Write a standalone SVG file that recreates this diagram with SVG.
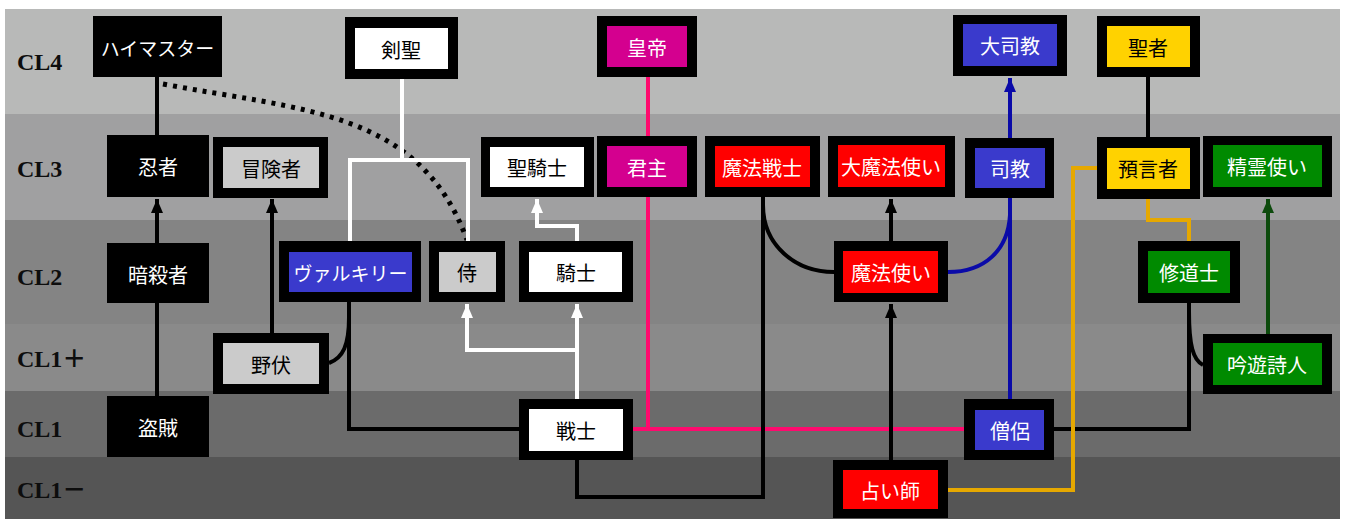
<svg xmlns="http://www.w3.org/2000/svg" width="1347" height="519" viewBox="0 0 1347 519">
<style>
.lvl{font-family:"Liberation Serif","Noto Sans CJK JP",serif;font-weight:bold;font-size:24px;fill:#0d0d0d}
.o{fill:#000}
.t{font-family:"Noto Sans CJK JP","Noto Sans",sans-serif;font-size:20px;text-anchor:middle;dominant-baseline:central}
.w{fill:#fff}
.b{fill:#000}
.k{fill:none;stroke:#000;stroke-width:4}
.dot{fill:none;stroke:#000;stroke-width:5;stroke-dasharray:4 6}
.wl{fill:none;stroke:#fff;stroke-width:4}
.pk{fill:none;stroke:#ff0a6e;stroke-width:4}
.bl{fill:none;stroke:#0a0aa8;stroke-width:4}
.gd{fill:none;stroke:#e6a800;stroke-width:4}
.gn{fill:none;stroke:#0c4a0c;stroke-width:4}
</style>
<defs>
<marker id="ak" markerUnits="userSpaceOnUse" viewBox="0 0 14 12" refX="14" refY="6" markerWidth="14" markerHeight="12" orient="auto"><path d="M0,0 L14,6 L0,12 Z" fill="#000"/></marker>
<marker id="aw" markerUnits="userSpaceOnUse" viewBox="0 0 14 12" refX="14" refY="6" markerWidth="14" markerHeight="12" orient="auto"><path d="M0,0 L14,6 L0,12 Z" fill="#fff"/></marker>
<marker id="ab" markerUnits="userSpaceOnUse" viewBox="0 0 14 12" refX="14" refY="6" markerWidth="14" markerHeight="12" orient="auto"><path d="M0,0 L14,6 L0,12 Z" fill="#0a0aa8"/></marker>
<marker id="ag" markerUnits="userSpaceOnUse" viewBox="0 0 14 12" refX="14" refY="6" markerWidth="14" markerHeight="12" orient="auto"><path d="M0,0 L14,6 L0,12 Z" fill="#0c4a0c"/></marker>
</defs>
<rect x="0" y="0" width="1347" height="519" fill="#fff"/>
<g id="bands">
<rect x="5" y="9" width="1335" height="105" fill="#b8b9b8"/>
<rect x="5" y="114" width="1335" height="106" fill="#a0a0a1"/>
<rect x="5" y="220" width="1335" height="104" fill="#848484"/>
<rect x="5" y="324" width="1335" height="67" fill="#8a8a8a"/>
<rect x="5" y="391" width="1335" height="66" fill="#6b6b6b"/>
<rect x="5" y="457" width="1335" height="62" fill="#555555"/>
</g>
<g id="levels">
<text class="lvl" x="17" y="70">CL4</text>
<text class="lvl" x="17" y="177">CL3</text>
<text class="lvl" x="17" y="285">CL2</text>
<text class="lvl" x="17" y="367">CL1＋</text>
<text class="lvl" x="17" y="437">CL1</text>
<text class="lvl" x="17" y="498">CL1－</text>
</g>
<g id="connectors">
<path class="pk" d="M648,77 V136 M648,197 V429 M633,429 H964"/>
<path class="k" d="M157,77 V135"/>
<path class="k" d="M157,303 V396"/>
<path class="k" d="M157,243 V199" marker-end="url(#ak)"/>
<path class="k" d="M272,333 V199" marker-end="url(#ak)"/>
<path class="k" d="M349,302 V429 H519"/>
<path class="k" d="M329,363 C343,358 349,345 349,318"/>
<path class="k" d="M577,460 V497 H763 V197"/>
<path class="k" d="M763,205 C763,245 795,272 834,272"/>
<path class="k" d="M891,241 V199" marker-end="url(#ak)"/>
<path class="k" d="M891,460 V304" marker-end="url(#ak)"/>
<path class="k" d="M1054,429 H1189 V303"/>
<path class="k" d="M1203,365 C1193,360 1189,345 1189,312"/>
<path class="k" d="M1148,77 V137"/>
<path class="dot" d="M163,84 C300,110 420,110 467,240"/>
<path class="wl" d="M402,79 V160"/>
<path class="wl" d="M350,241 V160 H468 V241"/>
<path class="wl" d="M577,241 V226 H537 V199" marker-end="url(#aw)"/>
<path class="wl" d="M577,399 V350 H467 V304" marker-end="url(#aw)"/>
<path class="wl" d="M577,350 V304" marker-end="url(#aw)"/>
<path class="bl" d="M1010,399 V198"/>
<path class="bl" d="M948,272 C985,272 1008,250 1010,215"/>
<path class="bl" d="M1010,138 V78" marker-end="url(#ab)"/>
<path class="gn" d="M1268,334 V199" marker-end="url(#ag)"/>
<path class="gd" d="M1148,199 V220 H1189 V241"/>
<path class="gd" d="M948,490 H1073 V168 H1097"/>
</g>
<g id="n-highmaster"><rect class="o" x="93" y="16" width="129" height="61"/><text class="t w" x="157.5" y="47" style="font-size:19px">ハイマスター</text></g>
<g id="n-ninja"><rect class="o" x="107" y="135" width="102" height="62"/><text class="t w" x="158" y="166">忍者</text></g>
<g id="n-adventurer"><rect class="o" x="213" y="137" width="115" height="61"/><rect x="223" y="147" width="96" height="41" fill="#cbcbcb"/><text class="t b" x="271" y="168">冒険者</text></g>
<g id="n-kensei"><rect class="o" x="345" y="17" width="113" height="62"/><rect x="355" y="28" width="93" height="41" fill="#fff"/><text class="t b" x="401" y="49">剣聖</text></g>
<g id="n-emperor"><rect class="o" x="597" y="16" width="100" height="61"/><rect x="607" y="26" width="80" height="41" fill="#d4008f"/><text class="t w" x="647" y="47">皇帝</text></g>
<g id="n-paladin"><rect class="o" x="481" y="137" width="113" height="60"/><rect x="490" y="147" width="94" height="40" fill="#fff"/><text class="t b" x="537" y="167">聖騎士</text></g>
<g id="n-lord"><rect class="o" x="597" y="136" width="100" height="61"/><rect x="607" y="146" width="80" height="41" fill="#d4008f"/><text class="t w" x="647" y="167">君主</text></g>
<g id="n-magicwarrior"><rect class="o" x="705" y="136" width="115" height="61"/><rect x="715" y="146" width="95" height="41" fill="#ff0000"/><text class="t w" x="762" y="167">魔法戦士</text></g>
<g id="n-archmage"><rect class="o" x="828" y="136" width="127" height="61"/><rect x="838" y="145" width="107" height="42" fill="#ff0000"/><text class="t w" x="891" y="166">大魔法使い</text></g>
<g id="n-bishop"><rect class="o" x="965" y="138" width="89" height="60"/><rect x="975" y="148" width="70" height="40" fill="#3a3acc"/><text class="t w" x="1010" y="168">司教</text></g>
<g id="n-archbishop"><rect class="o" x="953" y="15" width="114" height="61"/><rect x="963" y="24" width="94" height="42" fill="#3a3acc"/><text class="t w" x="1010" y="45">大司教</text></g>
<g id="n-saint"><rect class="o" x="1097" y="16" width="103" height="61"/><rect x="1107" y="26" width="83" height="41" fill="#ffd200"/><text class="t b" x="1148" y="47">聖者</text></g>
<g id="n-prophet"><rect class="o" x="1097" y="137" width="103" height="62"/><rect x="1107" y="148" width="83" height="41" fill="#ffd200"/><text class="t b" x="1148" y="168">預言者</text></g>
<g id="n-spirit"><rect class="o" x="1203" y="136" width="129" height="61"/><rect x="1213" y="145" width="109" height="42" fill="#008a00"/><text class="t w" x="1267" y="166">精霊使い</text></g>
<g id="n-assassin"><rect class="o" x="107" y="243" width="102" height="60"/><text class="t w" x="158" y="274">暗殺者</text></g>
<g id="n-valkyrie"><rect class="o" x="279" y="241" width="142" height="61"/><rect x="289" y="252" width="123" height="40" fill="#3a3acc"/><text class="t w" x="350.5" y="272" style="font-size:19px">ヴァルキリー</text></g>
<g id="n-samurai"><rect class="o" x="429" y="241" width="76" height="61"/><rect x="439" y="252" width="57" height="40" fill="#cbcbcb"/><text class="t b" x="467" y="272">侍</text></g>
<g id="n-knight"><rect class="o" x="519" y="241" width="114" height="61"/><rect x="529" y="252" width="93" height="40" fill="#fff"/><text class="t b" x="576" y="272">騎士</text></g>
<g id="n-mage"><rect class="o" x="834" y="241" width="114" height="61"/><rect x="843" y="251" width="95" height="42" fill="#ff0000"/><text class="t w" x="891" y="272">魔法使い</text></g>
<g id="n-monk"><rect class="o" x="1138" y="241" width="102" height="62"/><rect x="1148" y="251" width="82" height="42" fill="#008a00"/><text class="t w" x="1189" y="272">修道士</text></g>
<g id="n-ranger"><rect class="o" x="213" y="333" width="116" height="61"/><rect x="223" y="343" width="96" height="41" fill="#cbcbcb"/><text class="t b" x="271" y="364">野伏</text></g>
<g id="n-bard"><rect class="o" x="1203" y="334" width="129" height="60"/><rect x="1213" y="343" width="109" height="42" fill="#008a00"/><text class="t w" x="1267" y="364">吟遊詩人</text></g>
<g id="n-thief"><rect class="o" x="107" y="396" width="102" height="61"/><text class="t w" x="158" y="427">盗賊</text></g>
<g id="n-fighter"><rect class="o" x="519" y="399" width="114" height="61"/><rect x="529" y="409" width="94" height="42" fill="#fff"/><text class="t b" x="576" y="430">戦士</text></g>
<g id="n-priest"><rect class="o" x="964" y="399" width="90" height="61"/><rect x="975" y="410" width="69" height="40" fill="#3a3acc"/><text class="t w" x="1010" y="430">僧侶</text></g>
<g id="n-fortune"><rect class="o" x="833" y="460" width="115" height="58"/><rect x="843" y="470" width="95" height="39" fill="#ff0000"/><text class="t w" x="890" y="490">占い師</text></g>
</svg>
